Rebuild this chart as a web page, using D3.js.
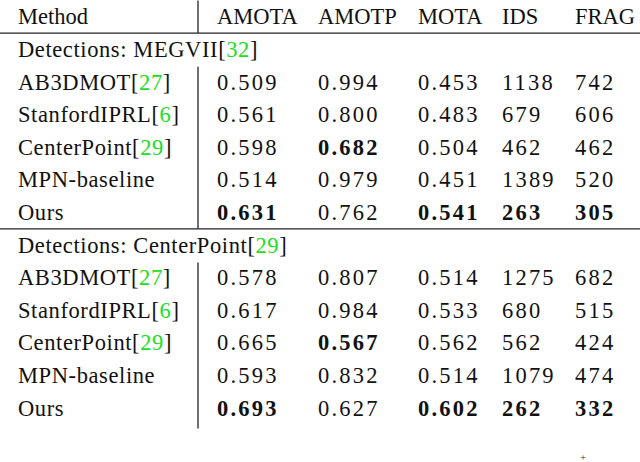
<!DOCTYPE html><html><head><meta charset="utf-8">
<script src="https://cdn.jsdelivr.net/npm/d3@7"></script>
<style>body{margin:0;background:#fff}</style></head><body><svg id="c" width="640" height="462"></svg>
<script>
const columns = ["Method","AMOTA","AMOTP","MOTA","IDS","FRAG"];
const sections = ["Detections: MEGVII[32]","Detections: CenterPoint[29]"];
const methods = ["AB3DMOT[27]","StanfordIPRL[6]","CenterPoint[29]","MPN-baseline","Ours"];
const valuesMEGVII = [
 ["0.509","0.994","0.453","1138","742"],
 ["0.561","0.800","0.483","679","606"],
 ["0.598","0.682","0.504","462","462"],
 ["0.514","0.979","0.451","1389","520"],
 ["0.631","0.762","0.541","263","305"]];
const valuesCenterPoint = [
 ["0.578","0.807","0.514","1275","682"],
 ["0.617","0.984","0.533","680","515"],
 ["0.665","0.567","0.562","562","424"],
 ["0.593","0.832","0.514","1079","474"],
 ["0.693","0.627","0.602","262","332"]];
const boldMEGVII = [[2,1],[4,0],[4,2],[4,3],[4,4]];
const boldCenterPoint = [[2,1],[4,0],[4,2],[4,3],[4,4]];

const svg = d3.select("#c");
const font = "'Liberation Serif','Times New Roman',serif";
const nRows = 13;
const y = d3.scaleLinear().domain([0, nRows]).range([0.5, 424.5]);
const x = d3.scaleOrdinal().domain(columns).range([18,217,318,418,502,575]);
const divX = 198;

const rows = [{type:"head"}];
[[valuesMEGVII,boldMEGVII],[valuesCenterPoint,boldCenterPoint]].forEach((s,si)=>{
  rows.push({type:"section",label:sections[si]});
  s[0].forEach((v,i)=>rows.push({type:"data",label:methods[i],vals:v,bold:s[1].filter(b=>b[0]===i).map(b=>b[1])}));
});

function addLabel(g,label,yy){
  const t=g.append("text").attr("x",x("Method")).attr("y",yy).attr("letter-spacing",0.6);
  const m=label.match(/^(.*?)(\[\d+\])?$/);
  if(m[2]){
    t.append("tspan").text(m[1]+"[");
    t.append("tspan").attr("fill","#22dd22").text(m[2].slice(1,-1));
    t.append("tspan").text("]");
  } else t.text(m[1]);
}
const g=svg.append("g").attr("font-family",font).attr("font-size",22.5).attr("fill","#111");
const step=y(1)-y(0);
rows.forEach((r,i)=>{
  const yy=y(i)+step/2+7.5;
  if(r.type==="head"){
    columns.forEach(c=>g.append("text").attr("x",x(c)).attr("y",yy).text(c));
  } else if(r.type==="section"){
    addLabel(g,r.label,yy);
  } else {
    addLabel(g,r.label,yy);
    r.vals.forEach((v,j)=>g.append("text").attr("x",x(columns[j+1])).attr("y",yy)
      .attr("letter-spacing",2.2)
      .attr("font-weight",r.bold.includes(j)?"bold":null).text(v));
  }
});
const ls=svg.append("g").attr("stroke","#222").attr("stroke-width",1.3);
[1,7].forEach(i=>ls.append("line").attr("x1",0).attr("x2",640).attr("y1",y(i)).attr("y2",y(i)));
[[0,1],[2,7],[8,13]].forEach(([a,b])=>ls.append("line").attr("x1",divX).attr("x2",divX).attr("y1",y(a)+(a?1:0)).attr("y2",y(b)+(b===13?4:0)));
svg.append("text").attr("x",583).attr("y",461).attr("font-size",11).attr("font-family",font).attr("fill","#333").attr("text-anchor","middle").text("+");
</script></body></html>
